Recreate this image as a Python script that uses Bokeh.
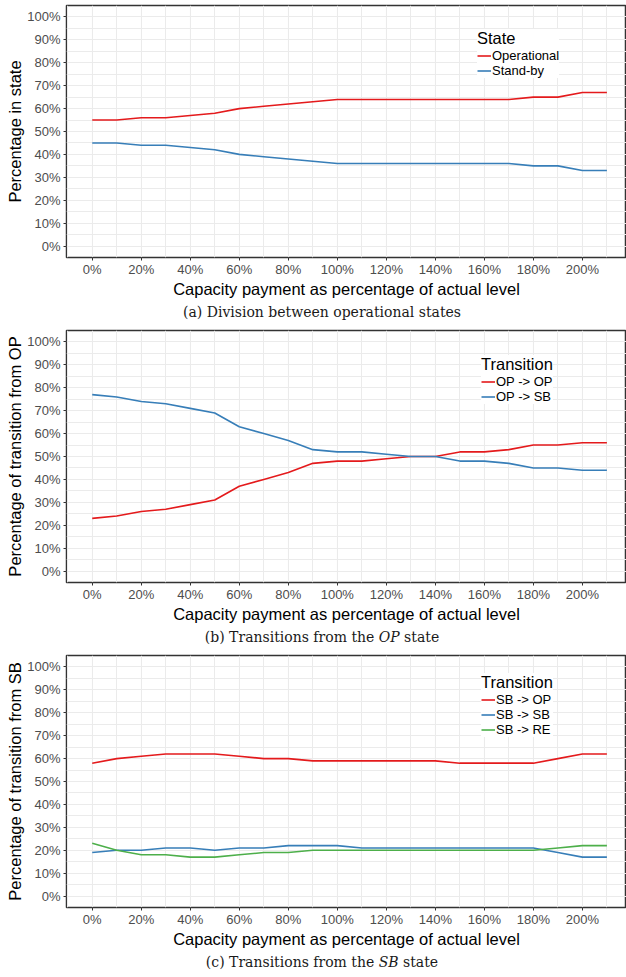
from bokeh.plotting import figure
from bokeh.models import (FixedTicker, PrintfTickFormatter, Legend, LegendItem,
                          Div, Range1d)
from bokeh.layouts import column
from bokeh.embed import file_html
from bokeh.resources import INLINE

# ---------------- data ----------------
capacity = [0, 10, 20, 30, 40, 50, 60, 70, 80, 90, 100,
            110, 120, 130, 140, 150, 160, 170, 180, 190, 200, 210]

state_operational = [55, 55, 56, 56, 57, 58, 60, 61, 62, 63, 64,
                     64, 64, 64, 64, 64, 64, 64, 65, 65, 67, 67]
state_standby = [45, 45, 44, 44, 43, 42, 40, 39, 38, 37, 36,
                 36, 36, 36, 36, 36, 36, 36, 35, 35, 33, 33]

op_to_op = [23, 24, 26, 27, 29, 31, 37, 40, 43, 47, 48,
            48, 49, 50, 50, 52, 52, 53, 55, 55, 56, 56]
op_to_sb = [77, 76, 74, 73, 71, 69, 63, 60, 57, 53, 52,
            52, 51, 50, 50, 48, 48, 47, 45, 45, 44, 44]

sb_to_op = [58, 60, 61, 62, 62, 62, 61, 60, 60, 59, 59,
            59, 59, 59, 59, 58, 58, 58, 58, 60, 62, 62]
sb_to_sb = [19, 20, 20, 21, 21, 20, 21, 21, 22, 22, 22,
            21, 21, 21, 21, 21, 21, 21, 21, 19, 17, 17]
sb_to_re = [23, 20, 18, 18, 17, 17, 18, 19, 19, 20, 20,
            20, 20, 20, 20, 20, 20, 20, 20, 21, 22, 22]

x_major_ticks = [0, 20, 40, 60, 80, 100, 120, 140, 160, 180, 200]
x_minor_ticks = [-10, 10, 30, 50, 70, 90, 110, 130, 150, 170, 190, 210]
y_major_ticks = [0, 10, 20, 30, 40, 50, 60, 70, 80, 90, 100]
y_minor_ticks = [-5, 5, 15, 25, 35, 45, 55, 65, 75, 85, 95, 105]

x_title = "Capacity payment as percentage of actual level"

RED, BLUE, GREEN = "#E41A1C", "#377EB8", "#4DAF4A"
SANS = "Liberation Sans"
SERIF = "DejaVu Serif"


def make_panel(ylabel, series, legend_title, leg_x, leg_y):
    p = figure(width=626, height=300,
               x_range=Range1d(-10.5, 218), y_range=Range1d(-5, 105),
               output_backend="svg", toolbar_location=None,
               min_border_left=66, min_border_right=0,
               min_border_top=5, min_border_bottom=0)
    p.background_fill_color = "white"
    p.border_fill_color = "white"
    p.outline_line_color = "#333333"
    p.outline_line_width = 1.5

    p.xaxis.ticker = FixedTicker(ticks=x_major_ticks, minor_ticks=x_minor_ticks)
    p.yaxis.ticker = FixedTicker(ticks=y_major_ticks, minor_ticks=y_minor_ticks)
    p.xaxis.formatter = PrintfTickFormatter(format="%d%%")
    p.yaxis.formatter = PrintfTickFormatter(format="%d%%")

    for g in (p.xgrid, p.ygrid):
        g.grid_line_color = "#EBEBEB"
        g.grid_line_width = 1.1
        g.minor_grid_line_color = "#EBEBEB"
        g.minor_grid_line_width = 1.0

    for ax in (p.xaxis, p.yaxis):
        ax.axis_line_color = None
        ax.major_tick_line_color = "#333333"
        ax.major_tick_line_width = 1
        ax.major_tick_in = 0
        ax.major_tick_out = 3
        ax.minor_tick_line_color = None
        ax.major_label_text_color = "#4D4D4D"
        ax.major_label_text_font = SANS
        ax.major_label_text_font_size = "13px"
        ax.major_label_text_line_height = 1.0
        ax.axis_label_text_font = SANS
        ax.axis_label_text_font_size = "16.5px"
        ax.axis_label_text_font_style = "normal"
        ax.axis_label_text_color = "black"
        ax.axis_label_text_line_height = 1.0
        ax.axis_label_standoff = 0
    p.xaxis.major_label_standoff = 0
    p.yaxis.major_label_standoff = 2

    p.xaxis.axis_label = x_title
    p.yaxis.axis_label = ylabel

    items = []
    for label, ys, color in series:
        r = p.line(capacity, ys, line_color=color, line_width=1.6)
        items.append(LegendItem(label=label, renderers=[r]))

    leg = Legend(items=items, title=legend_title, location=(leg_x, leg_y),
                 title_text_font=SANS, title_text_font_size="16.5px",
                 title_text_font_style="normal", title_text_color="black",
                 title_text_line_height=1.0, title_standoff=0,
                 label_text_font=SANS, label_text_font_size="13px",
                 label_text_color="black",
                 glyph_width=14, glyph_height=15, label_height=15,
                 label_standoff=1, spacing=0, padding=4, margin=0,
                 background_fill_color="white", background_fill_alpha=1.0,
                 border_line_color=None)
    p.add_layout(leg)
    return p


def caption(html):
    return Div(text=html, width=626, height=25, margin=0,
               styles={"font-family": SERIF, "font-size": "14px",
                       "text-align": "center", "line-height": "25px",
                       "color": "#1a1a1a", "width": "626px",
                       "padding-left": "18px", "box-sizing": "border-box"})


pa = make_panel("Percentage in state",
                [("Operational", state_operational, RED),
                 ("Stand-by", state_standby, BLUE)],
                "State", 411, 179)
pb = make_panel("Percentage of transition from OP",
                [("OP -> OP", op_to_op, RED),
                 ("OP -> SB", op_to_sb, BLUE)],
                "Transition", 415, 178)
pc = make_panel("Percentage of transition from SB",
                [("SB -> OP", sb_to_op, RED),
                 ("SB -> SB", sb_to_sb, BLUE),
                 ("SB -> RE", sb_to_re, GREEN)],
                "Transition", 415, 170)

layout = column(pa, caption("(a) Division between operational states"),
                pb, caption("(b) Transitions from the <i>OP</i> state"),
                pc, caption("(c) Transitions from the <i>SB</i> state"),
                spacing=0)

open("out.html", "w").write(file_html(layout, INLINE))
